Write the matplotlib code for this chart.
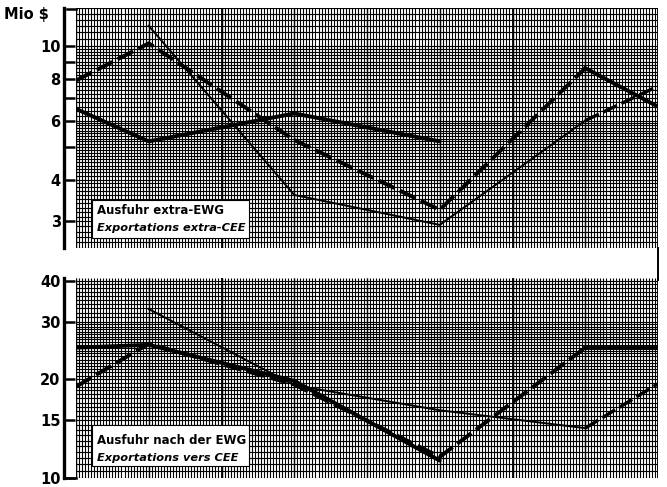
import numpy as np
import matplotlib
matplotlib.use("Agg")
import matplotlib.pyplot as plt
from matplotlib.patches import Rectangle
from matplotlib.lines import Line2D

plt.rcParams['font.family'] = ['DejaVu Sans']

# positions of the observations on the 8-interval time grid
pos = [0, 1, 3, 5, 7, 8]

# top panel: Ausfuhr extra-EWG (Mio $)
top_solid = [6.5, 5.2, 6.3, 5.2]
top_dash = [7.9, 10.2, 5.25, 3.25, 8.6, 6.6]
top_thin = [np.nan, 11.5, 3.6, 2.93, 6.0, 7.6]
top_ticks = [3, 4, 6, 8, 10]
top_minor = [5, 7, 9]

# bottom panel: Ausfuhr nach der EWG (Mio $)
bot_solid = [25, 25.5, 19.8, 11.3]
bot_dash = [19, 25.7, 19.3, 11.6, 25, 25]
bot_thin = [np.nan, 32.8, 19.2, 16.1, 14.2, 19.4]
bot_ticks = [10, 15, 20, 30, 40]

W, H = 667, 487
fig = plt.figure(figsize=(W / 100, H / 100), dpi=100)

def px_axes(x0, y0, x1, y1):
    return fig.add_axes([x0 / W, 1 - y1 / H, (x1 - x0) / W, (y1 - y0) / H])

ax1 = px_axes(76, 8, 658, 248)
ax2 = px_axes(76, 278, 658, 478)

def paper(ax, ylim, hsteps):
    ax.set_yscale('log')
    ax.set_xlim(0, 8)
    ax.set_ylim(*ylim)
    for s in ['top', 'right', 'bottom']:
        ax.spines[s].set_visible(False)
    ax.spines['left'].set_position(('outward', 9))
    ax.spines['left'].set_linewidth(2.4)
    ax.set_xticks([])
    # millimetre paper
    xs = np.arange(0, 8.001, 1 / 24)
    ax.vlines(xs, 0, 1, transform=ax.get_xaxis_transform(), color='black', lw=0.8, zorder=0)
    ax.vlines(np.arange(0, 9), 0, 1, transform=ax.get_xaxis_transform(), color='black', lw=1.0, zorder=0)
    ax.vlines([2, 6, 8], 0, 1, transform=ax.get_xaxis_transform(), color='black', lw=1.3, zorder=0)
    ys = []
    for a, b, st in hsteps:
        ys.extend(np.arange(a, b, st))
    ax.hlines(ys, 0, 1, transform=ax.get_yaxis_transform(), color='black', lw=0.8, zorder=0)

paper(ax1, (2.5, 13.0), [(2.5, 6, 0.1), (6, 10, 0.2), (10, 13.01, 0.5)])
paper(ax2, (10, 40.8), [(10, 15, 0.5), (15, 30, 0.5), (30, 41, 1.0)])

def draw(ax, solid, dash, thin):
    ax.plot(pos[:len(solid)], solid, color='black', lw=2.8, solid_capstyle='round', zorder=2)
    ax.plot(pos[:5], dash[:5], color='black', lw=2.8, ls=(0, (4.5, 1.5)), zorder=2)
    ax.plot(pos[4:], dash[4:], color='black', lw=2.8, zorder=2)
    ax.plot(pos[:5], thin[:5], color='black', lw=1.4, zorder=2)
    ax.plot(pos[4:], thin[4:], color='black', lw=2.4, ls=(0, (4.5, 1.5)), zorder=2)

draw(ax1, top_solid, top_dash, top_thin)
draw(ax2, bot_solid, bot_dash, bot_thin)

for ax, ticks in [(ax1, top_ticks), (ax2, bot_ticks)]:
    ax.set_yticks(ticks)
    ax.set_yticklabels([str(t) for t in ticks], fontweight='bold', fontsize=10.5)
    ax.tick_params(axis='y', which='major', direction='in', length=8, width=1.8, pad=2)
ax1.set_yticks(top_minor, minor=True)
ax1.yaxis.set_minor_formatter(matplotlib.ticker.NullFormatter())
ax1.tick_params(axis='y', which='minor', direction='in', length=8, width=1.8)
ax2.yaxis.set_minor_locator(matplotlib.ticker.NullLocator())

# legend boxes
def label_box(ax, x0, y0, w, h, l1, l2, t1, t2):
    ax.add_patch(Rectangle((x0, y0), w, h, transform=ax.transAxes, facecolor='white',
                           edgecolor='black', lw=0.8, zorder=3))
    ax.text(x0 + 0.009, t1, l1, transform=ax.transAxes, fontsize=8.5, fontweight='bold',
            va='center', ha='left', zorder=4)
    ax.text(x0 + 0.009, t2, l2, transform=ax.transAxes, fontsize=8.2, fontweight='bold',
            fontstyle='italic', va='center', ha='left', zorder=4)

label_box(ax1, 0.027, 0.042, 0.27, 0.16, 'Ausfuhr extra-EWG', 'Exportations extra-CEE', 0.158, 0.083)
label_box(ax2, 0.027, 0.06, 0.27, 0.205, 'Ausfuhr nach der EWG', 'Exportations vers CEE', 0.19, 0.1)

fig.text(4 / W, 1 - 15 / H, 'Mio $', fontsize=10.5, fontweight='bold', va='center', ha='left')

# hooks at spine ends and the right edge between panels
fig.add_artist(Line2D([67 / W, 76 / W], [1 - 9 / H, 1 - 9 / H], color='black', lw=1.8))
fig.add_artist(Line2D([67 / W, 76 / W], [1 - 478 / H, 1 - 478 / H], color='black', lw=1.8))
fig.add_artist(Line2D([658 / W, 658 / W], [1 - 248 / H, 1 - 280 / H], color='black', lw=1.4))

fig.savefig('out.png', dpi=100)
